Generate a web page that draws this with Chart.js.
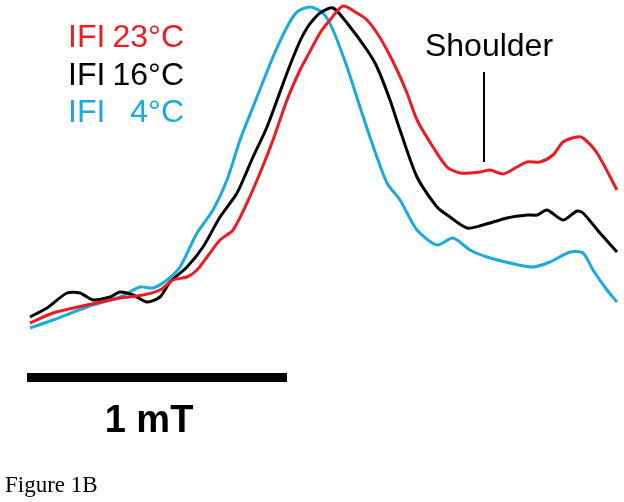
<!DOCTYPE html>
<html>
<head>
<meta charset="utf-8">
<script src="https://cdn.jsdelivr.net/npm/chart.js@4"></script>
<style>
html,body{margin:0;padding:0;background:#fff;}
#wrap{width:624px;height:502px;}
</style>
</head>
<body>
<div id="wrap"><canvas id="c" width="624" height="502"></canvas></div>
<script>
// Field axis in arbitrary units (260 units = 1 mT), intensity in arbitrary units
const seriesNames = ['IFI 23°C', 'IFI 16°C', 'IFI 4°C'];
const seriesTemps = ['23°C', '16°C', '4°C'];
const seriesColors = ['#ee1b22', '#000000', '#1ca8e0'];

const field23 = [30,53,87,120,143,160,173,187,197,207,220,233,247,260,273,287,300,307,320,330,343,357,367,377,387,397,407,417,433,447,460,480,490,503,517,527,540,553,563,577,583,597,617];
const int23   = [179,189,197,204,207,212,222,225,232,245,262,272,299,329,362,402,432,445,469,482,496,489,482,469,452,432,409,382,355,335,329,330,332,328,335,340,340,347,360,365,364,349,312];

const field16 = [30,47,67,80,93,110,120,133,147,160,170,187,203,220,237,253,267,287,300,307,313,320,333,347,367,377,390,400,417,437,450,467,483,507,527,537,547,563,577,583,600,617];
const int16   = [185,194,209,209,202,205,210,207,200,205,220,235,255,285,309,345,375,429,461,474,482,489,494,479,452,435,402,372,325,295,285,274,277,284,287,287,292,282,291,289,269,250];

const field4 = [30,53,87,120,140,153,167,180,197,213,227,240,253,273,287,297,310,323,333,347,360,373,387,400,417,437,453,470,487,510,533,550,570,583,593,607,617];
const int4   = [174,182,195,205,215,214,222,235,269,292,322,362,395,445,475,490,495,489,472,435,395,356,319,302,272,257,264,252,245,239,235,240,250,249,232,212,200];

const scaleBarField = [27, 287];      // 1 mT
const scaleBarLevel = 124.5;
const scaleBarLabel = '1 mT';
const shoulderField = [484, 484];
const shoulderInt = [430, 340];
const shoulderLabel = 'Shoulder';
const caption = 'Figure 1B';

function pts(xs, ys){ return xs.map((x,i)=>({x:x, y:ys[i]})); }

const textPlugin = {
  id: 'texts',
  afterDatasetsDraw(chart){
    const ctx = chart.ctx;
    const xs = chart.scales.x;
    ctx.save();
    ctx.font = '32px "Liberation Sans", Arial, sans-serif';
    ctx.textBaseline = 'alphabetic';
    const baselines = [47, 85, 122];
    for (let i=0;i<3;i++){
      ctx.fillStyle = seriesColors[i];
      ctx.textAlign = 'left';
      ctx.fillText('IFI', 68, baselines[i]);
      ctx.textAlign = 'right';
      ctx.fillText(seriesTemps[i], 184, baselines[i]);
    }
    ctx.fillStyle = '#000';
    ctx.textAlign = 'center';
    ctx.font = '32px "Liberation Sans", Arial, sans-serif';
    ctx.fillText(shoulderLabel, xs.getPixelForValue(shoulderField[0]) + 5, 56);
    ctx.font = 'bold 38px "Liberation Sans", Arial, sans-serif';
    const cx = (xs.getPixelForValue(scaleBarField[0]) + xs.getPixelForValue(scaleBarField[1]))/2 - 8;
    ctx.fillText(scaleBarLabel, cx, 432);
    ctx.textAlign = 'left';
    ctx.font = '23px "Liberation Serif", serif';
    ctx.fillText(caption, 5, 492);
    ctx.restore();
  }
};

new Chart(document.getElementById('c'), {
  type: 'line',
  data: {
    datasets: [
      {label: seriesNames[0], data: pts(field23, int23), borderColor: seriesColors[0], borderWidth: 3, pointRadius: 0, tension: 0.25, fill: false},
      {label: seriesNames[1], data: pts(field16, int16), borderColor: seriesColors[1], borderWidth: 3, pointRadius: 0, tension: 0.25, fill: false},
      {label: seriesNames[2], data: pts(field4, int4), borderColor: seriesColors[2], borderWidth: 3, pointRadius: 0, tension: 0.25, fill: false},
      {label: 'scale', data: pts(scaleBarField, [scaleBarLevel, scaleBarLevel]), borderColor: '#000', borderWidth: 9, pointRadius: 0, borderCapStyle: 'butt'},
      {label: 'shoulder', data: pts(shoulderField, shoulderInt), borderColor: '#000', borderWidth: 2, pointRadius: 0, borderCapStyle: 'butt'}
    ]
  },
  options: {
    responsive: false,
    animation: false,
    layout: {padding: 0},
    plugins: {legend: {display: false}, tooltip: {enabled: false}},
    scales: {
      x: {type: 'linear', min: 0, max: 624, display: false},
      y: {type: 'linear', min: 0, max: 502, display: false}
    }
  },
  plugins: [textPlugin]
});
</script>
</body>
</html>
